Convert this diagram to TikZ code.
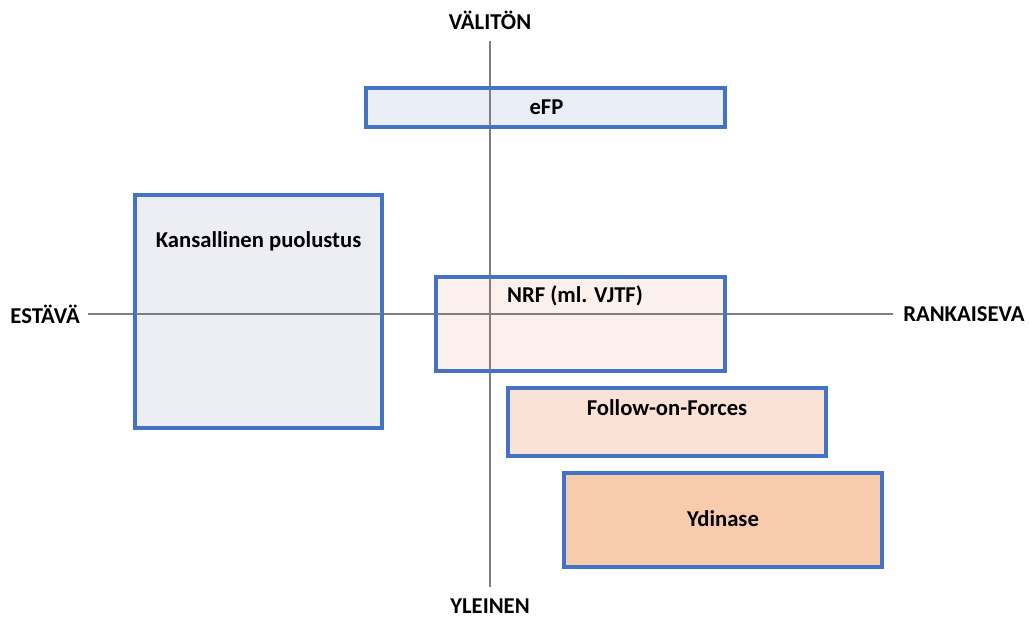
\documentclass[tikz,border=0pt]{standalone}
\usepackage{fontspec}
\setmainfont{Carlito}
\usetikzlibrary{positioning}

\definecolor{boxblue}{HTML}{4472C4}
\definecolor{axisgray}{HTML}{7F7F7F}
\definecolor{efpfill}{HTML}{E9EDF5}
\definecolor{kpfill}{HTML}{ECEEF3}
\definecolor{nrffill}{HTML}{FBF0EB}
\definecolor{foffill}{HTML}{FAE3D6}
\definecolor{ydfill}{HTML}{F8CBAD}

\tikzset{
  force/.style={draw=boxblue, line width=2.1pt, inner sep=0pt},
  lbl/.style={font=\fontsize{17}{19}\selectfont\bfseries},
  axis/.style={draw=axisgray, line width=0.8pt}
}

\begin{document}
\begin{tikzpicture}[x=0.75pt, y=-0.75pt, every node/.style={lbl}]
  \useasboundingbox (0,0) rectangle (1029,619);
  % force boxes
  \node[force, fill=efpfill, minimum width=357*0.75pt, minimum height=37*0.75pt] (efp) at (545.5,107.5) {};
  \node[force, fill=kpfill, minimum width=245*0.75pt, minimum height=231*0.75pt] (kp) at (258.5,311.5) {};
  \node[force, fill=nrffill, minimum width=287*0.75pt, minimum height=92*0.75pt] (nrf) at (580.5,324) {};
  \node[force, fill=foffill, minimum width=316*0.75pt, minimum height=66*0.75pt] (fof) at (667,422) {};
  \node[force, fill=ydfill, minimum width=316*0.75pt, minimum height=92*0.75pt] (yd) at (723,520) {};
  % axis labels
  \node[inner sep=0pt] (valiton) at (490,20) {VÄLITÖN};
  \node[inner sep=0pt] (yleinen) at (490,606) {YLEINEN};
  \node[inner sep=0pt, anchor=east] (estava) at (80,314) {ESTÄVÄ};
  \node[inner sep=0pt, anchor=west] (rank) at (903,314) {RANKAISEVA};
  % axes
  \draw[axis] ([yshift=-11*0.75pt]valiton.south) -- ([yshift=11*0.75pt]yleinen.north);
  \draw[axis] ([xshift=8*0.75pt]estava.east) -- ([xshift=-10*0.75pt]rank.west);
  % redraw borders on top
  \foreach \b in {efp,kp,nrf,fof,yd}
    \draw[boxblue, line width=2.1pt] (\b.north west) rectangle (\b.south east);
  % box texts
  \node at ([xshift=1*0.75pt]efp.center) {eFP};
  \node at ([yshift=-47*0.75pt]kp.north) {Kansallinen puolustus};
  \node at ([xshift=-5.5*0.75pt, yshift=-19*0.75pt]nrf.north) {NRF (ml. VJTF)};
  \node at ([yshift=-20*0.75pt]fof.north) {Follow-on-Forces};
  \node at ([yshift=1*0.75pt]yd.center) {Ydinase};
\end{tikzpicture}
\end{document}
